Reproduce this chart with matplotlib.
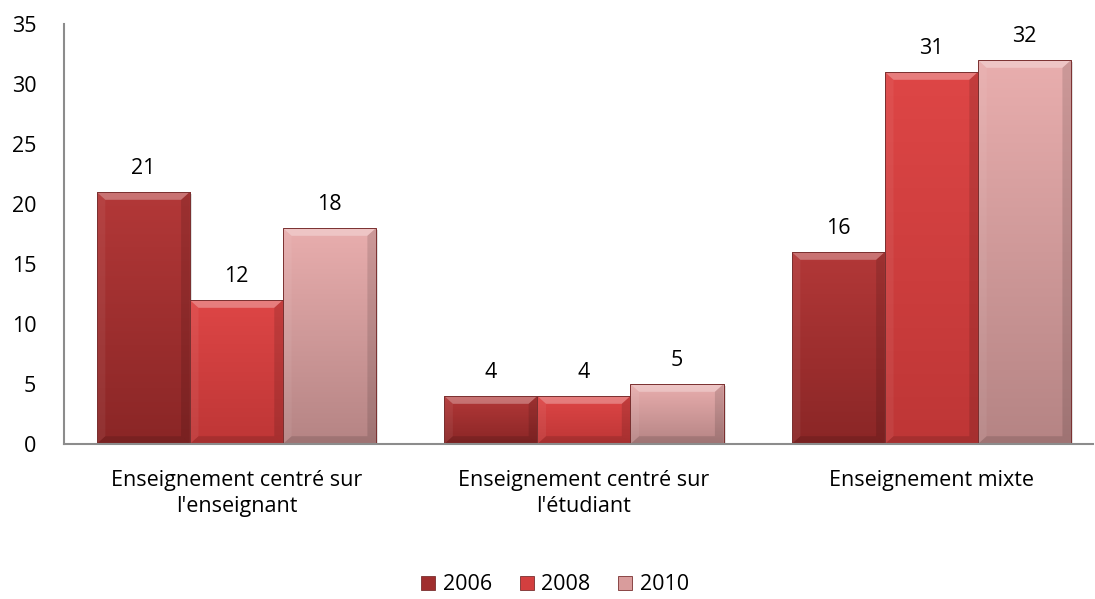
import matplotlib
matplotlib.use("Agg")
import matplotlib.pyplot as plt
import numpy as np
from matplotlib.patches import Polygon, Patch
from matplotlib.colors import LinearSegmentedColormap

categories = ["Enseignement centré sur\nl'enseignant", "Enseignement centré sur\nl'étudiant", "Enseignement mixte"]
series_names = ["2006", "2008", "2010"]
v2006 = [21, 4, 16]
v2008 = [12, 4, 31]
v2010 = [18, 5, 32]
values = [v2006, v2008, v2010]
yticks = [0, 5, 10, 15, 20, 25, 30, 35]

top_colors = ["#B33838", "#DE4646", "#E9AEAE"]
bot_colors = ["#8A2626", "#BE3636", "#B58484"]
mid_colors = ["#A02E2E", "#D33F3F", "#D99C9C"]

FS = 15.5
plt.rcParams['font.family'] = ['Open Sans', 'DejaVu Sans']
fig = plt.figure(figsize=(10.95, 5.99), dpi=100)
ax = fig.add_axes([64/1095, 1-444/599, (1093-64)/1095, (444-24)/599])

x = np.arange(len(categories))
w = 0.268
offsets = [-w, 0, w]

ax.set_xlim(-0.496, 2.465)
ax.set_ylim(0, 35)

for si, (name, vals) in enumerate(zip(series_names, values)):
    bars = ax.bar(x + offsets[si], vals, width=w, color=mid_colors[si],
                  edgecolor="#6E2A2A", linewidth=0.6, zorder=2, label=name)
    cmap = LinearSegmentedColormap.from_list("g%d" % si, [bot_colors[si], top_colors[si]])
    for b, v in zip(bars, vals):
        x0, y0 = b.get_x(), b.get_y()
        bw, bh = b.get_width(), b.get_height()
        # shadow
        ax.add_patch(plt.Rectangle((x0 + 0.006, y0), bw, bh - 0.15, facecolor="#000000",
                                   alpha=0.12, zorder=1.5, linewidth=0))
        grad = np.linspace(0, 1, 256).reshape(-1, 1)
        im = ax.imshow(grad, extent=(x0, x0 + bw, y0, y0 + bh), origin="lower",
                       cmap=cmap, aspect="auto", zorder=2.1)
        im.set_clip_path(b)
        # bevel
        dx = 0.025
        dy = 0.65
        dyy = min(dy, bh / 2)
        top = Polygon([(x0, y0 + bh), (x0 + bw, y0 + bh), (x0 + bw - dx, y0 + bh - dyy), (x0 + dx, y0 + bh - dyy)],
                      closed=True, facecolor="white", alpha=0.3, linewidth=0, zorder=2.2)
        bot = Polygon([(x0, y0), (x0 + bw, y0), (x0 + bw - dx, y0 + dyy), (x0 + dx, y0 + dyy)],
                      closed=True, facecolor="black", alpha=0.12, linewidth=0, zorder=2.2)
        left = Polygon([(x0, y0), (x0, y0 + bh), (x0 + dx, y0 + bh - dyy), (x0 + dx, y0 + dyy)],
                       closed=True, facecolor="white", alpha=0.06, linewidth=0, zorder=2.2)
        right = Polygon([(x0 + bw, y0), (x0 + bw, y0 + bh), (x0 + bw - dx, y0 + bh - dyy), (x0 + bw - dx, y0 + dyy)],
                        closed=True, facecolor="black", alpha=0.12, linewidth=0, zorder=2.2)
        for p in (top, bot, left, right):
            ax.add_patch(p)
        edge = plt.Rectangle((x0, y0), bw, bh, facecolor="none", edgecolor="#7A3030",
                             linewidth=0.7, zorder=2.3)
        ax.add_patch(edge)
        ax.annotate(str(v), (x0 + bw / 2, y0 + bh), xytext=(0, 9), textcoords="offset points",
                    ha="center", va="bottom", fontsize=FS, color="black")

for s in ["top", "right"]:
    ax.spines[s].set_visible(False)
for s in ["left", "bottom"]:
    ax.spines[s].set_color("#8C8C8C")
    ax.spines[s].set_linewidth(1.5)
ax.spines["bottom"].set_zorder(3)

ax.set_yticks(yticks)
ax.set_yticklabels([str(t) for t in yticks], fontsize=FS)
ax.set_xticks(x)
ax.set_xticklabels(categories, fontsize=FS, linespacing=1.3)
ax.tick_params(axis="both", length=0)
ax.tick_params(axis="y", pad=20)
ax.tick_params(axis="x", pad=19)
for lbl in ax.get_yticklabels():
    lbl.set_horizontalalignment("right")

handles = [Patch(facecolor=mid_colors[i], edgecolor="#7A3030", linewidth=0.6, label=series_names[i])
           for i in range(3)]
fig.legend(handles=handles, loc="center", bbox_to_anchor=(555/1095, 1-585/599), ncol=3,
           frameon=False, fontsize=FS, handlelength=0.65, handleheight=0.65,
           handletextpad=0.35, columnspacing=1.3)

fig.savefig("out.png", dpi=100)
